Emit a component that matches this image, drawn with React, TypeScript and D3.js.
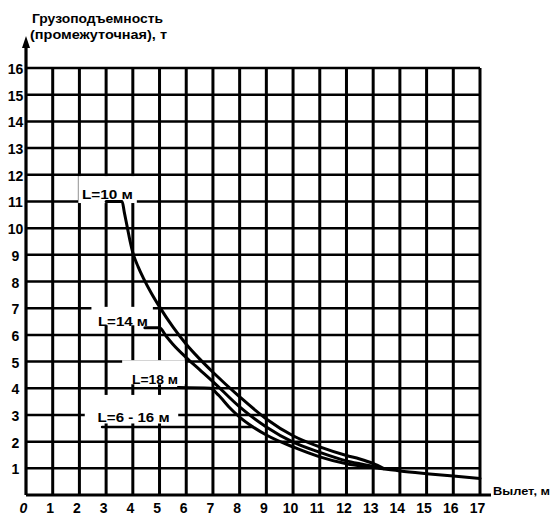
import React from 'react'
import * as d3 from 'd3'

// capacity curves: [reach m, load t]
const boom10 = [[3, 11], [3.6, 11], [3.68, 10.6], [3.8, 10.0], [3.9, 9.5], [4, 9.08], [4.2, 8.55], [4.4, 8.12], [4.7, 7.55], [5, 7.05], [5.5, 6.3], [6, 5.65], [6.5, 5.1], [7, 4.6], [8, 3.68], [9, 2.85], [10, 2.22], [11, 1.8], [12, 1.48], [12.5, 1.35], [13, 1.18], [13.4, 0.99]]
const boom14 = [[4.45, 6.27], [5, 6.27], [5.25, 5.95], [5.5, 5.65], [6, 5.15], [6.5, 4.7], [7, 4.25], [8, 3.3], [9, 2.55], [10, 1.98], [11, 1.6], [12, 1.28], [12.5, 1.17], [13, 1.07], [13.3, 1.0]]
const boom18 = [[5.7, 4.03], [6.9, 4.0], [7.2, 3.75], [7.6, 3.3], [8, 2.92], [8.5, 2.55], [9, 2.25], [10, 1.8], [11, 1.43], [12, 1.17], [13, 1.03], [14, 0.9], [15, 0.8], [16, 0.71], [17, 0.62]]
const boom6to16 = [[2.85, 2.55], [8.5, 2.55]]

const xTicks = [0, 1, 2, 3, 4, 5, 6, 7, 8, 9, 10, 11, 12, 13, 14, 15, 16, 17]
const yTicks = [1, 2, 3, 4, 5, 6, 7, 8, 9, 10, 11, 12, 13, 14, 15, 16]

const labels = [
  { text: 'L=10 м', x: 3.05, y: 11.25, w: 51 },
  { text: 'L=14 м', x: 3.63, y: 6.5, w: 50 },
  { text: 'L=18 м', x: 4.83, y: 4.3, w: 46 },
  { text: 'L=6 - 16 м', x: 4.03, y: 2.9, w: 72 },
]

// places where the scan has the grid rubbed out behind the labels
const gaps = [
  { x0: 1.96, x1: 4.15, y0: 10.94, y1: 11.95 },
  { x0: 2.45, x1: 4.75, y0: 6.36, y1: 7.05 },
  { x0: 3.6, x1: 5.95, y0: 4.15, y1: 5.05 },
  { x0: 2.2, x1: 5.7, y0: 2.68, y1: 3.75 },
]

const font = '"Liberation Sans", Arial, sans-serif'

export default function App() {
  const x = d3.scaleLinear().domain([0, 17]).range([26, 480])
  const y = d3.scaleLinear().domain([0, 16]).range([495, 68])

  const line = d3.line<number[]>()
    .x(d => x(d[0]))
    .y(d => y(d[1]))
    .curve(d3.curveMonotoneX)

  return (
    <svg width={559} height={519} style={{ position: 'absolute', left: 0, top: 0, background: '#fff' }}
      fontFamily={font} fontWeight="bold">
      {/* grid */}
      <g stroke="#000">
        {xTicks.slice(1).map(t => (
          <line key={'v' + t} x1={x(t)} x2={x(t)} y1={y(0)} y2={y(16)} strokeWidth={3} />
        ))}
        {yTicks.map(t => (
          <line key={'h' + t} x1={x(0)} x2={x(17)} y1={y(t)} y2={y(t)} strokeWidth={2.5} />
        ))}
      </g>
      {gaps.map((g, i) => (
        <rect key={i} x={x(g.x0)} y={y(g.y1)} width={x(g.x1) - x(g.x0)} height={y(g.y0) - y(g.y1)} fill="#fff" />
      ))}

      {/* axes */}
      <line x1={x(0)} x2={x(0)} y1={y(0)} y2={45} stroke="#000" strokeWidth={3.2} />
      <path d={`M${x(0)},36 L${x(0) - 4},48 L${x(0) + 4},48 Z`} fill="#000" />
      <line x1={x(0)} x2={491} y1={y(0)} y2={y(0)} stroke="#000" strokeWidth={3.2} />

      {/* curves */}
      <g fill="none" stroke="#000" strokeWidth={3} strokeLinejoin="round" strokeLinecap="round">
        <path d={line(boom10) ?? ''} />
        <path d={line(boom14) ?? ''} />
        <path d={line(boom18) ?? ''} />
        <path d={line(boom6to16) ?? ''} strokeWidth={2.6} />
      </g>

      {/* curve labels */}
      {labels.map(l => (
        <text key={l.text} x={x(l.x) - l.w / 2} y={y(l.y) + 4} fontSize={12}
          textLength={l.w} lengthAdjust="spacingAndGlyphs">{l.text}</text>
      ))}

      {/* tick labels */}
      {yTicks.map(t => (
        <text key={'yl' + t} x={15.5} y={y(t) + 6} fontSize={14} textAnchor="middle">{t}</text>
      ))}
      {xTicks.map(t => (
        <text key={'xl' + t} x={x(t) - 2.5} y={513} fontSize={14} textAnchor="middle"
          fontStyle={t === 0 ? 'italic' : 'normal'}>{t}</text>
      ))}

      {/* axis titles */}
      <text x={32} y={23} fontSize={12} textLength={131} lengthAdjust="spacingAndGlyphs">Грузоподъемность</text>
      <text x={30} y={39} fontSize={12} textLength={137} lengthAdjust="spacingAndGlyphs">(промежуточная), т</text>
      <text x={493} y={495} fontSize={11} textLength={57} lengthAdjust="spacingAndGlyphs">Вылет, м</text>
    </svg>
  )
}
